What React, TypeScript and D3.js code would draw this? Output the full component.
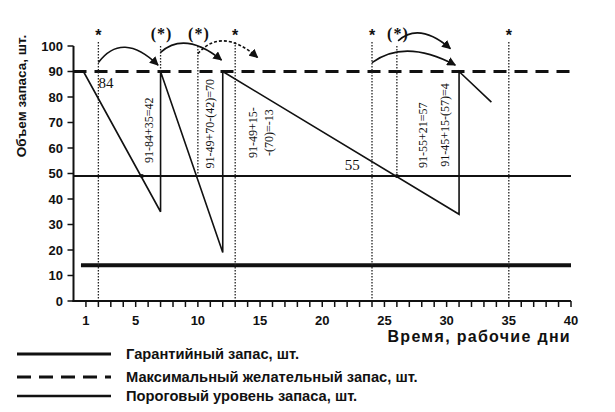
import React from "react";
import * as d3 from "d3";

// ---- data ----
const maxStock = 90;
const thresholdStock = 49;
const guaranteeStock = 14;
const sawDays = [0.8, 7, 7, 12, 12, 31, 31, 33.6];
const sawStock = [90, 35, 90, 19, 90, 34, 90, 78];
const orderDays = [2, 13, 24, 35];
const triggerDays = [7, 10, 26];
const triggerEnd = [90, 49, 49];
const arrowFrom = [2, 7, 10, 24, 26.1];
const arrowFromLevel = [93.5, 97.5, 97, 93.5, 102];
const arrowTo = [6.8, 11.9, 14.8, 30.7, 30.3];
const arrowToLevel = [92.5, 94.5, 95.5, 92.5, 99];
const arrowPeak = [99.5, 101, 102, 98, 105];
const arrowDashed = [false, false, true, false, false];
const xTickLabels = [1, 5, 10, 15, 20, 25, 30, 35, 40];
const yTicks = [0, 10, 20, 30, 40, 50, 60, 70, 80, 90, 100];
const formulaTexts = [
  { day: 6.1, v: 67, lines: ["91-84+35=42"] },
  { day: 11.0, v: 69.5, lines: ["91-49+70-(42)=70"] },
  { day: 14.4, v: 66, lines: ["91-49+15-", "-(70)=-13"] },
  { day: 28.1, v: 65, lines: ["91-55+21=57"] },
  { day: 29.85, v: 69, lines: ["91-45+15-(57)=4"] },
];
const legendItems = [
  "Гарантийный запас, шт.",
  "Максимальный желательный запас, шт.",
  "Пороговый уровень запаса, шт.",
];

const W = 615;
const H = 412;
const x = d3.scaleLinear().domain([0, 40]).range([73.5, 571]);
const y = d3.scaleLinear().domain([0, 100]).range([301, 46]);

const sans = "'Liberation Sans', Arial, sans-serif";
const serif = "'Liberation Serif', 'Times New Roman', serif";

export default function App() {
  const sawPts: [number, number][] = sawDays.map((d, i) => [x(d), y(sawStock[i])]);
  const saw = d3.line()(sawPts) || "";
  const dayTicks = d3.range(1, 41);

  const arrows = arrowFrom.map((d0, i) => {
    const x0 = x(d0), y0 = y(arrowFromLevel[i]);
    const x1 = x(arrowTo[i]), y1 = y(arrowToLevel[i]);
    const py = y(arrowPeak[i]);
    const cx = x0 + 0.4 * (x1 - x0);
    const cy = 2 * py - (y0 + y1) / 2;
    return { d: `M${x0},${y0} Q${cx},${cy} ${x1},${y1}`, dashed: arrowDashed[i] };
  });

  return (
    <svg width={W} height={H} style={{ position: "absolute", left: 0, top: 0, background: "#fff" }}>
      <defs>
        <marker id="ah" viewBox="0 0 10 10" refX="9" refY="5" markerWidth="9" markerHeight="9" markerUnits="userSpaceOnUse" orient="auto">
          <path d="M0,0 L10,5 L0,10 z" fill="#111" />
        </marker>
      </defs>

      {/* y axis label */}
      <text transform={`translate(26,${96}) rotate(-90)`} textAnchor="middle" fontFamily={sans} fontWeight="bold" fontSize={13.5} fill="#111">
        Объем запаса, шт.
      </text>

      {/* horizontal reference lines */}
      <line x1={x(0)} x2={x(40)} y1={y(maxStock)} y2={y(maxStock)} stroke="#111" strokeWidth={3} strokeDasharray="13 8" />
      <line x1={x(0)} x2={x(40)} y1={y(thresholdStock)} y2={y(thresholdStock)} stroke="#111" strokeWidth={2} />
      <line x1={x(0.6)} x2={x(40)} y1={y(guaranteeStock)} y2={y(guaranteeStock)} stroke="#111" strokeWidth={4} />

      {/* dotted order lines */}
      {orderDays.map((d) => (
        <line key={"o" + d} x1={x(d)} x2={x(d)} y1={42} y2={y(0)} stroke="#222" strokeWidth={1.3} strokeDasharray="1.5 1.5" />
      ))}
      {triggerDays.map((d, i) => (
        <line key={"t" + d} x1={x(d)} x2={x(d)} y1={46} y2={y(triggerEnd[i])} stroke="#222" strokeWidth={1.3} strokeDasharray="1.5 1.5" />
      ))}

      {/* stars */}
      {orderDays.map((d) => (
        <text key={"s" + d} x={x(d)} y={41} textAnchor="middle" fontFamily={sans} fontWeight="bold" fontSize={16} fill="#111">*</text>
      ))}
      {triggerDays.map((d) => (
        <text key={"ps" + d} x={x(d) + 1} y={39} textAnchor="middle" fontFamily={serif} fontWeight="bold" fontSize={16} letterSpacing={1} fill="#111">(*)</text>
      ))}

      {/* arrows */}
      {arrows.map((a, i) => (
        <path key={"a" + i} d={a.d} fill="none" stroke="#111" strokeWidth={1.6} strokeDasharray={a.dashed ? "3 2" : undefined} markerEnd="url(#ah)" />
      ))}

      {/* sawtooth */}
      <path d={saw} fill="none" stroke="#111" strokeWidth={1.6} />
      <circle cx={x(5.5)} cy={y(thresholdStock)} r={2} fill="#111" />
      <circle cx={x(26)} cy={y(thresholdStock)} r={2} fill="#111" />

      {/* annotation numbers */}
      <text x={x(2)} y={y(83.5)} fontFamily={serif} fontSize={15} fill="#111">84</text>
      <text x={x(21.8)} y={y(51.5)} fontFamily={serif} fontSize={15} fill="#111">55</text>

      {formulaTexts.map((f, i) => (
        <text key={"f" + i} transform={`translate(${x(f.day)},${y(f.v)}) rotate(-90)`} textAnchor="middle" fontFamily={serif} fontSize={12} fill="#111">
          {f.lines.map((l, j) => (
            <tspan key={j} x={0} dy={j === 0 ? 4 : 16}>{l}</tspan>
          ))}
        </text>
      ))}

      {/* axes */}
      <line x1={x(0)} x2={x(0)} y1={y(100)} y2={y(0) + 1} stroke="#111" strokeWidth={2} />
      <line x1={x(0) - 1} x2={x(40)} y1={y(0)} y2={y(0)} stroke="#111" strokeWidth={2} />
      {yTicks.map((t) => (
        <g key={"yt" + t}>
          <line x1={x(0) - 6} x2={x(0)} y1={y(t)} y2={y(t)} stroke="#111" strokeWidth={1.5} />
          <text x={63} y={y(t) + 4.5} textAnchor="end" fontFamily={sans} fontWeight="bold" fontSize={13} fill="#111">{t}</text>
        </g>
      ))}
      {dayTicks.map((d) => (
        <line key={"xt" + d} x1={x(d)} x2={x(d)} y1={y(0)} y2={y(0) + 6} stroke="#111" strokeWidth={1.5} />
      ))}
      {xTickLabels.map((d) => (
        <text key={"xl" + d} x={x(d)} y={325} textAnchor="middle" fontFamily={sans} fontWeight="bold" fontSize={13} fill="#111">{d}</text>
      ))}
      <text x={571} y={342} textAnchor="end" fontFamily={sans} fontWeight="bold" fontSize={16} letterSpacing={1.3} fill="#111">Время, рабочие дни</text>

      {/* legend */}
      <line x1={17} x2={111} y1={354} y2={354} stroke="#111" strokeWidth={3} />
      <line x1={17} x2={111} y1={377} y2={377} stroke="#111" strokeWidth={3} strokeDasharray="14 8" />
      <line x1={17} x2={111} y1={396} y2={396} stroke="#111" strokeWidth={2.5} />
      {legendItems.map((t, i) => (
        <text key={"lg" + i} x={126} y={[359, 382, 401][i]} fontFamily={sans} fontWeight="bold" fontSize={14.7} fill="#111">{t}</text>
      ))}
    </svg>
  );
}
